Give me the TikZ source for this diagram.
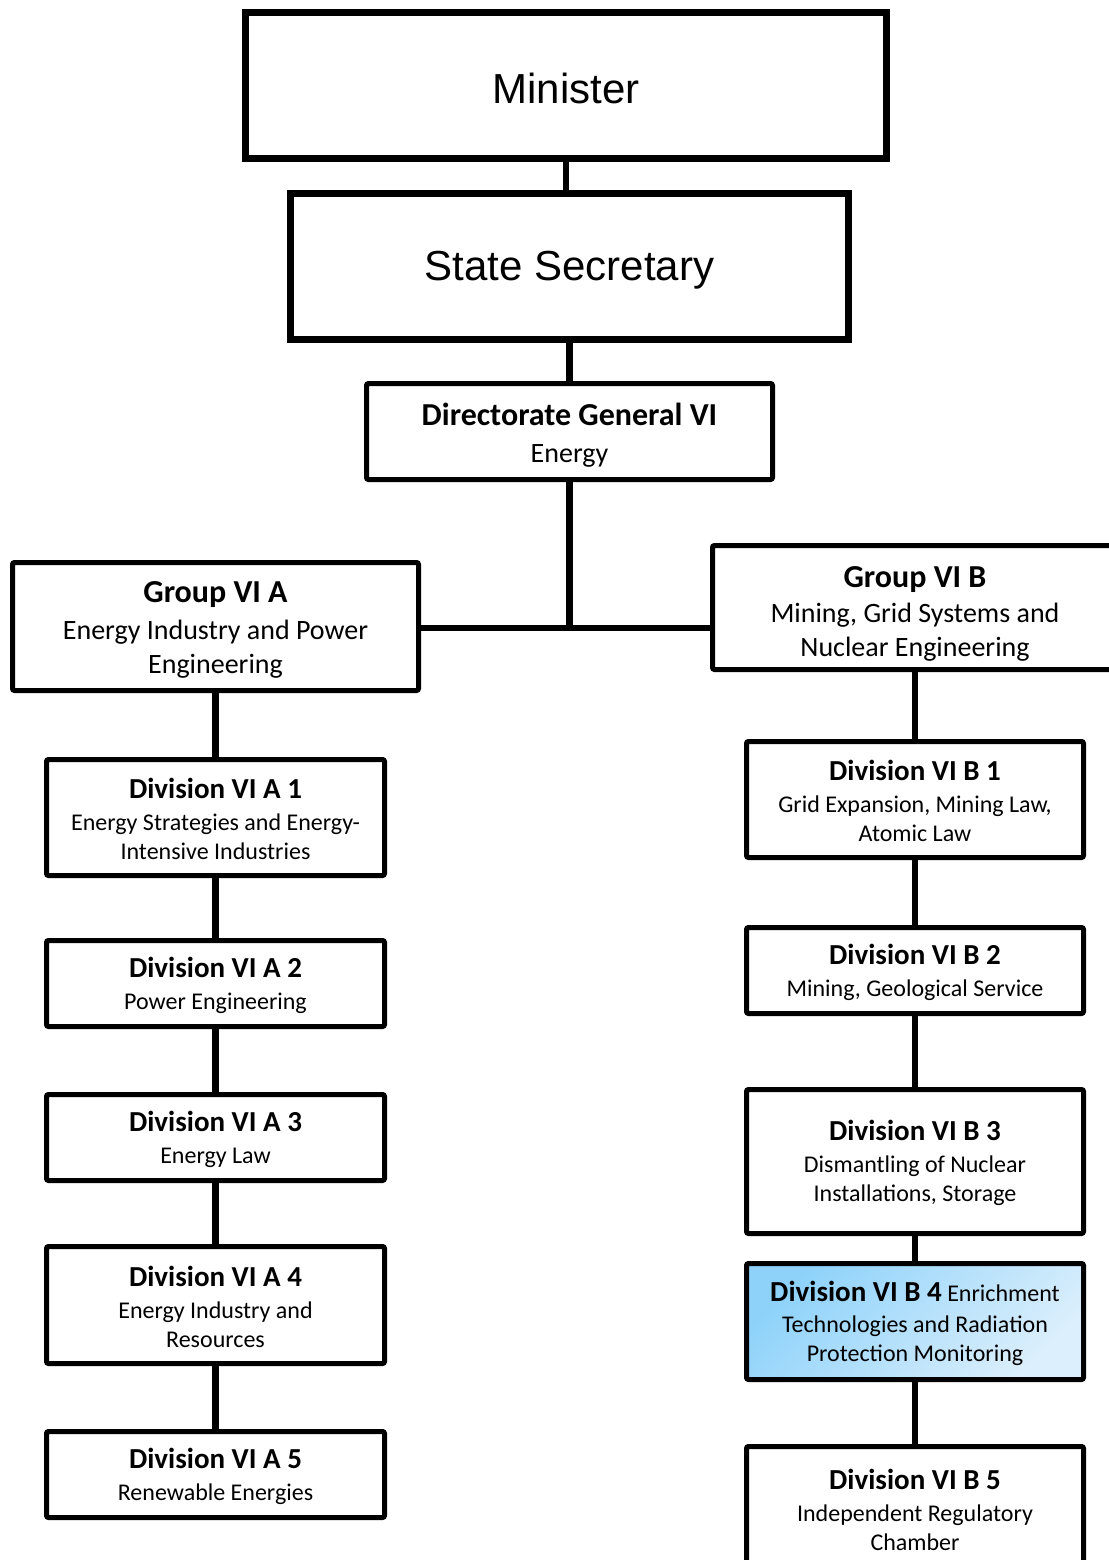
\documentclass[tikz,border=0pt]{standalone}
\usepackage{fontspec}
\setmainfont{Carlito}
\newfontfamily\headfont{Liberation Sans}
\usetikzlibrary{backgrounds}
\definecolor{unitblueA}{RGB}{142,210,250}
\definecolor{unitblueB}{RGB}{220,239,252}
% bold headings; the strut sets the height of the first line
\newcommand\unittitle[2][12pt]{{\fontsize{14.5}{16}\selectfont\bfseries\rule{0pt}{#1}#2}}
\newcommand\grouptitle[2][13.5pt]{{\fontsize{16}{19}\selectfont\bfseries\rule{0pt}{#1}#2}}

\begin{document}
\begin{tikzpicture}[x=0.5pt,y=-0.5pt,
  firstline/.style={execute at begin node={\rule{0pt}{#1}}},
  topbox/.style={draw=black, line width=3.5pt, fill=white, inner sep=0pt,
    firstline=18pt, font=\headfont\fontsize{21}{25}\selectfont},
  unitbox/.style={draw=black, line width=2.5pt, fill=white, inner sep=0pt,
    rounded corners=1pt, align=center, font=\fontsize{12}{14.5}\selectfont},
  groupbox/.style={unitbox, font=\fontsize{14}{17}\selectfont},
  leftunit/.style={unitbox, minimum width=169pt},
  rightunit/.style={unitbox, minimum width=168.5pt},
  link/.style={draw=black, line width=3.25pt}]
\useasboundingbox (0,0) rectangle (1109,1560);
\clip (0,0) rectangle (1109,1560);

% leadership
\node[topbox, minimum width=320.5pt, minimum height=73pt] (min) at (566,85.5) {Minister};
\node[topbox, minimum width=279pt, minimum height=73pt] (ss) at (569.5,266.5) {State Secretary};

% directorate and groups
\node[groupbox, minimum width=203pt, minimum height=48pt] (dg) at (569.5,431.5)
  {\grouptitle[14.5pt]{Directorate General VI}\\[1.5pt] Energy};
\node[groupbox, minimum width=203pt, minimum height=64pt] (ga) at (215.5,626.5)
  {\grouptitle{Group VI A}\\[1.5pt] Energy Industry and Power\\ Engineering};
\node[groupbox, minimum width=202.5pt, minimum height=62pt] (gb) at (915,607.5)
  {\grouptitle[16.5pt]{Group VI B}\\[0.5pt] Mining, Grid Systems and\\ Nuclear Engineering};

% divisions of group A
\node[leftunit, minimum height=58pt] (a1) at (215.5,817.5)
  {\unittitle{Division VI A 1}\\[1.5pt] Energy Strategies and Energy-\\Intensive Industries};
\node[leftunit, minimum height=43pt] (a2) at (215.5,983.5)
  {\unittitle{Division VI A 2}\\[1.5pt] Power Engineering};
\node[leftunit, minimum height=43pt] (a3) at (215.5,1137.5)
  {\unittitle{Division VI A 3}\\[1.5pt] Energy Law};
\node[leftunit, minimum height=58.5pt] (a4) at (215.5,1305)
  {\unittitle{Division VI A 4}\\[1.5pt] Energy Industry and\\ Resources};
\node[leftunit, minimum height=43pt] (a5) at (215.5,1474.5)
  {\unittitle{Division VI A 5}\\[1.5pt] Renewable Energies};

% divisions of group B
\node[rightunit, minimum height=58pt] (b1) at (915,799.5)
  {\unittitle{Division VI B 1}\\[1.5pt] Grid Expansion, Mining Law,\\ Atomic Law};
\node[rightunit, minimum height=43pt] (b2) at (915,970.5)
  {\unittitle{Division VI B 2}\\[1.5pt] Mining, Geological Service};
\node[rightunit, minimum height=72pt] (b3) at (915,1161.5)
  {\unittitle{Division VI B 3}\\[1.5pt] Dismantling of Nuclear\\ Installations, Storage};
\node[rightunit, minimum height=58pt, top color=unitblueA, bottom color=unitblueB,
  shading angle=45] (b4) at (915,1321.5)
  {\unittitle{Division VI B 4} Enrichment\\[1pt] Technologies and Radiation\\ Protection Monitoring};
\node[rightunit, minimum height=61.5pt] (b5) at (915,1508)
  {\unittitle{Division VI B 5}\\[1.5pt] Independent Regulatory\\ Chamber};

% reporting lines
\coordinate (hub) at (570,628);
\begin{pgfonlayer}{background}
  \draw[link] (min.south) -- (min.south |- ss.north);
  \draw[link] (ss.south) -- (ss.south |- dg.north);
  \draw[link] (dg.south) -- (dg.south |- hub);
  \draw[link] (ga.east |- hub) -- (gb.west |- hub);
  \draw[link] (ga.south) -- (a1.north) (a1.south) -- (a2.north)
    (a2.south) -- (a3.north) (a3.south) -- (a4.north) (a4.south) -- (a5.north);
  \draw[link] (gb.south) -- (b1.north) (b1.south) -- (b2.north)
    (b2.south) -- (b3.north) (b3.south) -- (b4.north) (b4.south) -- (b5.north);
\end{pgfonlayer}
\end{tikzpicture}
\end{document}
